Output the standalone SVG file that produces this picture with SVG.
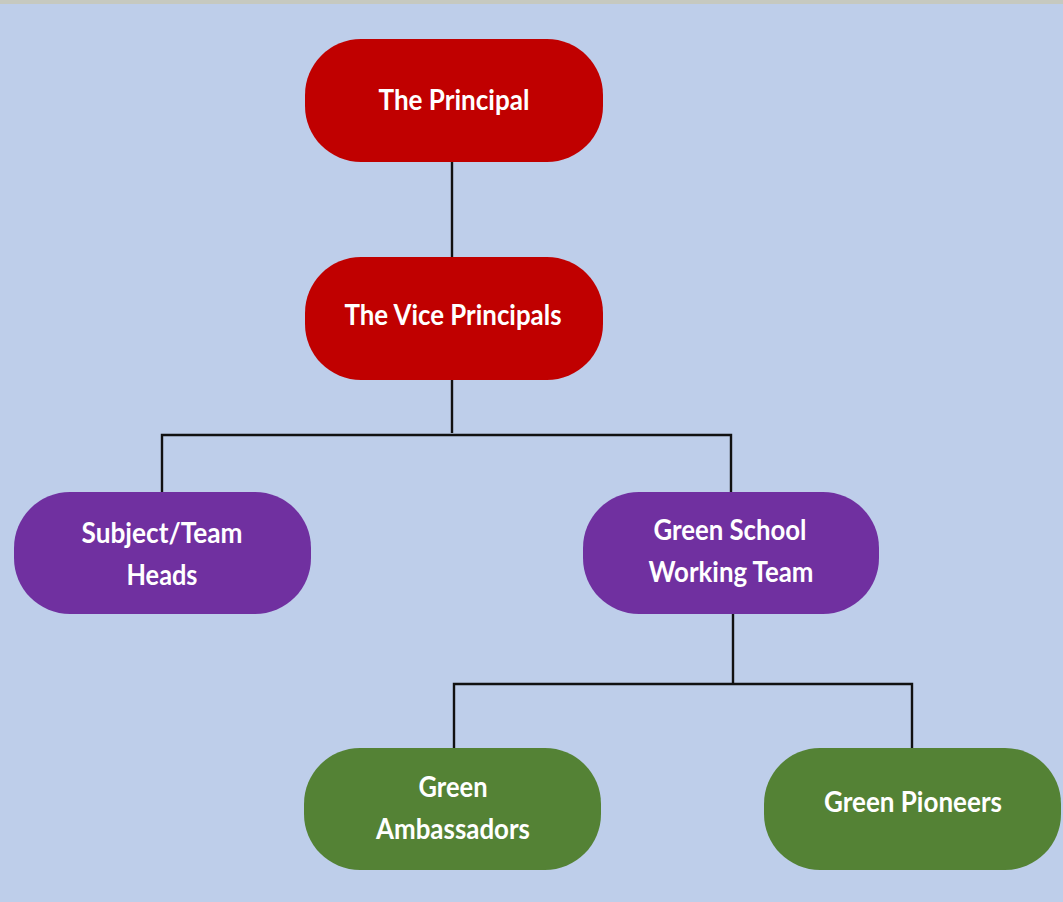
<svg xmlns="http://www.w3.org/2000/svg" width="1063" height="902" viewBox="0 0 1063 902">
<style>
.red{fill:#C00000}
.purple{fill:#7030A0}
.green{fill:#548235}
.lbl{fill:#FFFFFF;font-family:"Lato","Open Sans","DejaVu Sans",sans-serif;font-weight:bold;font-size:28px;text-anchor:middle}
.conn{stroke:#111111;stroke-width:2.4;fill:none}
</style>
<rect x="0" y="0" width="1063" height="902" fill="#BECEEA"/>
<rect x="0" y="0" width="1063" height="4" fill="#C6C9C0"/>
<g id="connectors">
<path class="conn" d="M452 162 V257"/>
<path class="conn" d="M452 380 V433"/>
<path class="conn" d="M162 492 V435 H731 V492"/>
<path class="conn" d="M733 614 V684"/>
<path class="conn" d="M454 748 V684 H912 V748"/>
</g>
<g id="principal">
<rect class="red" x="305" y="39" width="298" height="123" rx="56" ry="56"/>
<text class="lbl" x="454" y="110" textLength="151" lengthAdjust="spacingAndGlyphs">The Principal</text>
</g>
<g id="vice-principals">
<rect class="red" x="305" y="257" width="298" height="123" rx="56" ry="56"/>
<text class="lbl" x="453" y="325" textLength="217" lengthAdjust="spacingAndGlyphs">The Vice Principals</text>
</g>
<g id="subject-team-heads">
<rect class="purple" x="14" y="492" width="297" height="122" rx="56" ry="56"/>
<text class="lbl" x="162" y="543" textLength="161" lengthAdjust="spacingAndGlyphs">Subject/Team</text>
<text class="lbl" x="162" y="585" textLength="71" lengthAdjust="spacingAndGlyphs">Heads</text>
</g>
<g id="green-school-working-team">
<rect class="purple" x="583" y="492" width="296" height="122" rx="56" ry="56"/>
<text class="lbl" x="730" y="540" textLength="153" lengthAdjust="spacingAndGlyphs">Green School</text>
<text class="lbl" x="731" y="582" textLength="165" lengthAdjust="spacingAndGlyphs">Working Team</text>
</g>
<g id="green-ambassadors">
<rect class="green" x="304" y="748" width="297" height="122" rx="56" ry="56"/>
<text class="lbl" x="453" y="797" textLength="69" lengthAdjust="spacingAndGlyphs">Green</text>
<text class="lbl" x="453" y="839" textLength="154" lengthAdjust="spacingAndGlyphs">Ambassadors</text>
</g>
<g id="green-pioneers">
<rect class="green" x="764" y="748" width="297" height="122" rx="56" ry="56"/>
<text class="lbl" x="913" y="812" textLength="178" lengthAdjust="spacingAndGlyphs">Green Pioneers</text>
</g>
</svg>
